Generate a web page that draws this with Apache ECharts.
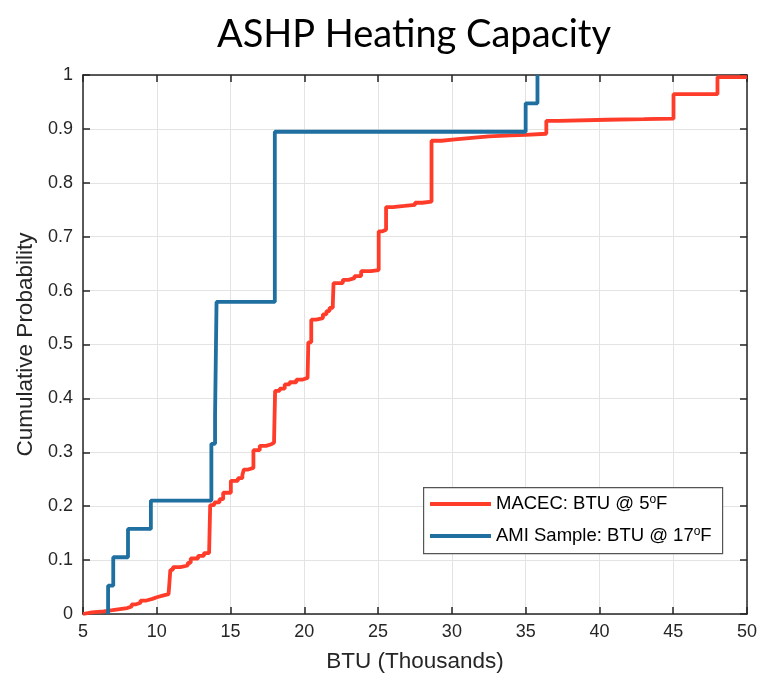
<!DOCTYPE html>
<html>
<head>
<meta charset="utf-8">
<script src="https://cdn.jsdelivr.net/npm/echarts@6/dist/echarts.min.js"></script>
<style>html,body{margin:0;padding:0;background:#fff}#c{width:760px;height:678px}</style>
</head>
<body>
<div id="c"></div>
<script>
// ---- data ----
const titleText = 'ASHP Heating Capacity';
const xAxisName = 'BTU (Thousands)';
const yAxisName = 'Cumulative Probability';
const seriesNames = ['MACEC: BTU @ 5{sup|o}F', 'AMI Sample: BTU @ 17{sup|o}F'];
const xTickLabels = ['5','10','15','20','25','30','35','40','45','50'];
const yTickLabels = ['0','0.1','0.2','0.3','0.4','0.5','0.6','0.7','0.8','0.9','1'];

// MACEC empirical CDF step points: [BTU thousands, cumulative probability]
const macecX = [5.0, 5.0, 5.6, 6.4, 7.0, 7.5, 8.0, 8.3, 8.6, 8.9, 9.3, 9.7, 10.0, 10.4, 10.8,
  10.92, 11.1, 11.6, 12.1, 12.3, 12.8, 13.2, 13.55, 13.62, 13.9, 14.25, 14.5, 15.02,
  15.5, 15.8, 15.9, 16.2, 16.55, 16.98, 17.4, 17.77, 17.95, 18.02, 18.33, 18.67, 19.0,
  19.46, 19.9, 20.22, 20.27, 20.47, 20.81, 21.26, 21.5, 21.71, 21.93, 21.98, 22.61, 23.0,
  23.4, 23.85, 24.5, 25.04, 25.3, 25.54, 26.0, 26.78, 27.5, 28.0, 28.62, 29.3, 30.04,
  31.17, 32.5, 34.0, 35.0, 36.4, 37.25, 40.5, 43.0, 45.02, 48.0, 50.0];
const macecY = [0.0, 0.003, 0.005, 0.007, 0.009, 0.011, 0.014, 0.018, 0.021, 0.025, 0.028, 0.031, 0.034, 0.037, 0.040,
  0.082, 0.087, 0.090, 0.095, 0.103, 0.108, 0.113, 0.118, 0.202, 0.207, 0.213, 0.225, 0.247,
  0.252, 0.258, 0.268, 0.271, 0.304, 0.312, 0.315, 0.318, 0.324, 0.414, 0.418, 0.426, 0.430,
  0.435, 0.438, 0.441, 0.504, 0.546, 0.549, 0.556, 0.562, 0.568, 0.574, 0.614, 0.620, 0.623,
  0.627, 0.636, 0.638, 0.710, 0.713, 0.755, 0.757, 0.759, 0.763, 0.765, 0.878, 0.880, 0.883,
  0.886, 0.888, 0.889, 0.891, 0.915, 0.917, 0.918, 0.919, 0.9645, 0.996, 0.996];

// AMI sample empirical CDF step points
const amiX = [6.7, 6.7, 7.05, 8.05, 9.6, 13.7, 13.95, 14.05, 18.0, 35.0, 35.8];
const amiY = [0, 1/19, 2/19, 3/19, 4/19, 6/19, 7/19, 11/19, 17/19, 18/19, 1];

// ---- chart ----
const pair = (xs, ys) => xs.map((x, i) => [x, ys[i]]);
const AX = '#262626';
const FONT = '"Liberation Sans", Arial, sans-serif';
const chart = echarts.init(document.getElementById('c'), null, {renderer: 'canvas'});

const commonAxis = {
  axisLine: {show: true, onZero: false, lineStyle: {color: AX, width: 1.5}},
  axisTick: {show: true, inside: true, length: 7, lineStyle: {color: AX, width: 1.5}}
};

chart.setOption({
  animation: false,
  backgroundColor: '#fff',
  title: {
    text: titleText, left: 409, top: 11, textAlign: 'center',
    textStyle: {fontFamily: 'Lato', fontWeight: 'normal', fontSize: 38, color: '#000'}
  },
  grid: {left: 83, right: 11, top: 75, bottom: 63},
  graphic: [{
    type: 'rect', left: 423, top: 487, z: 5,
    shape: {width: 299, height: 66},
    style: {fill: '#fff', stroke: '#555', lineWidth: 1.2}
  }],
  legend: {
    orient: 'vertical', left: 430, top: 494, z: 10, padding: 0,
    itemWidth: 61, itemHeight: 4, itemGap: 12, icon: 'rect',
    data: seriesNames,
    textStyle: {
      fontFamily: FONT, fontSize: 18.5, color: '#000', lineHeight: 20,
      rich: {sup: {fontFamily: FONT, fontSize: 12, verticalAlign: 'top', lineHeight: 12, color: '#000'}}
    }
  },
  xAxis: [Object.assign({
    type: 'value', min: 5, max: 50, interval: 5, position: 'bottom',
    name: xAxisName, nameLocation: 'middle', nameGap: 36,
    nameTextStyle: {fontFamily: FONT, fontSize: 22.5, color: '#262626'},
    axisLabel: {fontFamily: FONT, fontSize: 18, color: '#262626', margin: 9,
      formatter: v => xTickLabels[Math.round((v - 5) / 5)]},
    splitLine: {show: true, lineStyle: {color: '#e3e3e3', width: 1}}
  }, commonAxis), Object.assign({
    type: 'value', min: 5, max: 50, interval: 5, position: 'top',
    axisLabel: {show: false}, splitLine: {show: false}
  }, commonAxis)],
  yAxis: [Object.assign({
    type: 'value', min: 0, max: 1, interval: 0.1, position: 'left',
    name: yAxisName, nameLocation: 'middle', nameGap: 45, nameRotate: 90,
    nameTextStyle: {fontFamily: FONT, fontSize: 22.5, color: '#262626'},
    axisLabel: {fontFamily: FONT, fontSize: 18, color: '#262626', margin: 10,
      formatter: v => yTickLabels[Math.round(v * 10)]},
    splitLine: {show: true, lineStyle: {color: '#e3e3e3', width: 1}}
  }, commonAxis), Object.assign({
    type: 'value', min: 0, max: 1, interval: 0.1, position: 'right',
    axisLabel: {show: false}, splitLine: {show: false}
  }, commonAxis)],
  series: [{
    name: seriesNames[0], type: 'line', step: 'end', showSymbol: false, symbol: 'none',
    data: pair(macecX, macecY), clip: true,
    itemStyle: {color: '#ff3b2a'},
    lineStyle: {color: '#ff3b2a', width: 3.8}
  }, {
    name: seriesNames[1], type: 'line', step: 'end', showSymbol: false, symbol: 'none',
    data: pair(amiX, amiY), clip: true,
    itemStyle: {color: '#1f6fa0'},
    lineStyle: {color: '#1f6fa0', width: 3.8}
  }]
});
</script>
</body>
</html>
